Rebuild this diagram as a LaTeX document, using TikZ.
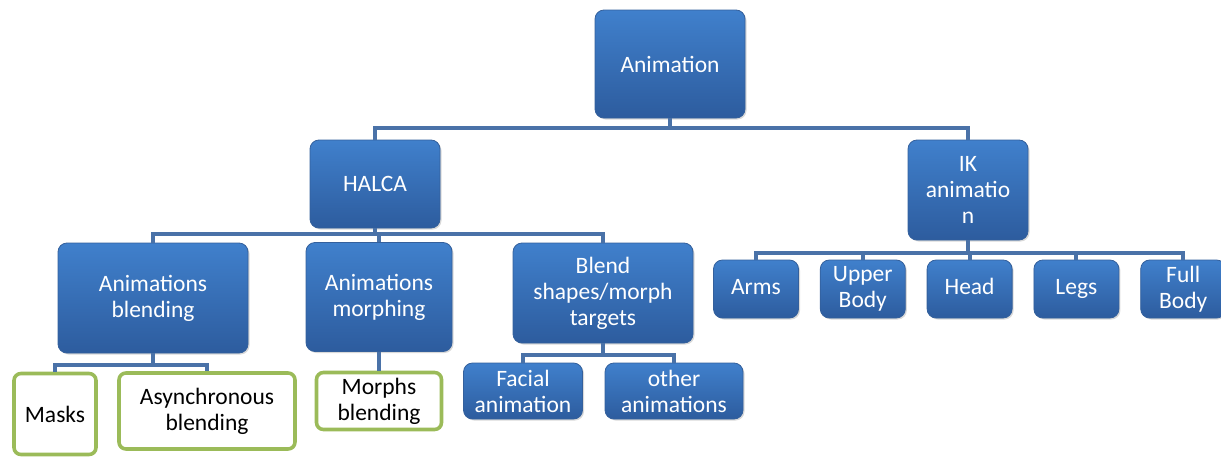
\documentclass[tikz,border=0pt]{standalone}
\usepackage{fontspec}
\setmainfont{Carlito}
\usetikzlibrary{positioning,shadows}
\definecolor{boxtop}{RGB}{64,128,204}
\definecolor{boxbot}{RGB}{45,92,158}
\definecolor{boxline}{RGB}{52,96,156}
\definecolor{leafline}{RGB}{155,187,89}
\definecolor{connblue}{RGB}{74,114,168}

\begin{document}
\begin{tikzpicture}[x=1pt, y=-1pt, node distance={21pt},
    main/.style = {draw=boxline, line width=0.8pt, rounded corners=9pt, top color=boxtop, bottom color=boxbot, text=white, align=center, font=\fontsize{23.5}{26}\selectfont, inner sep=2pt, drop shadow={shadow xshift=1.5pt, shadow yshift=-1.5pt, opacity=0.3}},
    small/.style = {main, minimum width=85pt, minimum height=58pt},
    leaf/.style = {draw=leafline, line width=3.6pt, rounded corners=7pt, fill=white, text=black, align=center, font=\fontsize{23.5}{26}\selectfont, inner sep=2pt},
    conn/.style = {draw=connblue, line width=4pt}]
        \useasboundingbox (0,0) rectangle (1221,458);

        \node[main, minimum width=150pt, minimum height=108pt] (anim) at (670,64) {Animation};
        \node[main, minimum width=130pt, minimum height=88pt] (halca) at (375,184) {HALCA};
        \node[main, minimum width=120pt, minimum height=100pt] (ik) at (968,190) {IK\\animatio\\n};

        \node[main, minimum width=190pt, minimum height=110pt] (blend) at (153,298) {Animations\\blending};
        \node[main, minimum width=146pt, minimum height=109pt] (morph) at (379,297) {Animations\\morphing};
        \node[main, minimum width=180pt, minimum height=100pt] (shapes) at (603,293) {Blend\\shapes/morph\\targets};

        \node[leaf, minimum width=82pt, minimum height=81pt] (masks) at (55,414) {Masks};
        \node[leaf, minimum width=176pt, minimum height=76pt] (async) at (207,411) {Asynchronous\\blending};
        \node[leaf, minimum width=125pt, minimum height=57pt] (morphs) at (379,401) {Morphs\\blending};
        \node[main, minimum width=119pt, minimum height=56pt] (facial) at (523,391) {Facial\\animation};
        \node[main, minimum width=138pt, minimum height=56pt] (other) at (674,391) {other\\animations};

        \node[small] (arms) at (756,289) {Arms\strut};
        \node[small] (upper) [right = of arms] {Upper\\Body};
        \node[small] (head) [right = of upper] {Head\strut};
        \node[small] (legs) [right = of head] {Legs\strut};
        \node[small] (full) [right = of legs] {Full\\Body};

        \draw[conn] (anim.south) -- ++(0,10) -| (halca.north);
        \draw[conn] (anim.south) -- ++(0,10) -| (ik.north);
        \foreach \c in {blend, morph, shapes}
            \draw[conn] (halca.south) -- ++(0,6) -| (\c.north);
        \draw[conn] (blend.south) -- ++(0,12) -| (masks.north);
        \draw[conn] (blend.south) -- ++(0,12) -| (async.north);
        \draw[conn] (morph.south) -- (morphs.north);
        \draw[conn] (shapes.south) -- ++(0,12) -| (facial.north);
        \draw[conn] (shapes.south) -- ++(0,12) -| (other.north);
        \foreach \c in {arms, upper, head, legs, full}
            \draw[conn] (ik.south) -- ++(0,13) -| (\c.north);

    \end{tikzpicture}
\end{document}
